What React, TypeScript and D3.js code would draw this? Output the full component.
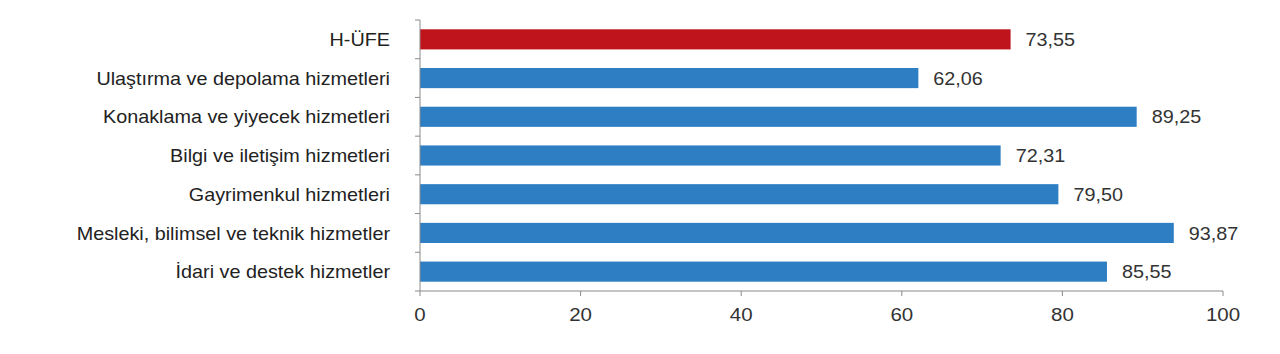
import React from "react";
import * as d3 from "d3";

const categories = [
  "H-ÜFE",
  "Ulaştırma ve depolama hizmetleri",
  "Konaklama ve yiyecek hizmetleri",
  "Bilgi ve iletişim hizmetleri",
  "Gayrimenkul hizmetleri",
  "Mesleki, bilimsel ve teknik hizmetler",
  "İdari ve destek hizmetler",
];
const values = [73.55, 62.06, 89.25, 72.31, 79.5, 93.87, 85.55];
const xTicks = [0, 20, 40, 60, 80, 100];

const W = 1280;
const H = 354;
const margin = { left: 420, right: 57, top: 20, bottom: 63 };

export default function App() {
  const x = d3.scaleLinear().domain([0, 100]).range([margin.left, W - margin.right]);
  const y = d3
    .scaleBand<string>()
    .domain(categories)
    .range([margin.top, H - margin.bottom])
    .paddingInner(0.48)
    .paddingOuter(0.24);
  const step = y.step();
  const y0 = margin.top;
  const y1 = H - margin.bottom;
  const fmt = (v: number) => v.toFixed(2).replace(".", ",");
  const axisColor = "#8a8a8a";
  const font = "'Liberation Sans', Arial, sans-serif";
  const sx = 1.1;
  return (
    <svg width={W} height={H} style={{ position: "absolute", left: 0, top: 0 }} fontFamily={font}>
      <rect width={W} height={H} fill="#fff" />
      {categories.map((c, i) => {
        const cy = y(c)! + y.bandwidth() / 2;
        return (
          <g key={c}>
            <rect
              x={x(0)}
              y={y(c)!}
              width={x(values[i]) - x(0)}
              height={y.bandwidth()}
              fill={i === 0 ? "#C0141C" : "#2E7EC4"}
            />
            <text
              transform={`translate(${x(values[i]) + 15},${cy}) scale(${sx},1)`}
              dy="0.37em"
              fontSize={18}
              fill="#333"
            >
              {fmt(values[i])}
            </text>
            <text
              transform={`translate(390,${cy}) scale(${sx},1)`}
              dy="0.37em"
              fontSize={18}
              textAnchor="end"
              fill="#222"
            >
              {c}
            </text>
          </g>
        );
      })}
      {/* y axis */}
      <line x1={x(0)} x2={x(0)} y1={y0} y2={y1} stroke={axisColor} strokeWidth={1} />
      {d3.range(categories.length + 1).map((i) => (
        <line
          key={"yt" + i}
          x1={x(0) - 5}
          x2={x(0)}
          y1={y0 + i * step}
          y2={y0 + i * step}
          stroke={axisColor}
        />
      ))}
      {/* x axis */}
      <line x1={x(0)} x2={x(100)} y1={y1} y2={y1} stroke={axisColor} strokeWidth={1} />
      {xTicks.map((t) => (
        <g key={"xt" + t}>
          <line x1={x(t)} x2={x(t)} y1={y1} y2={y1 + 5} stroke={axisColor} />
          <text
            transform={`translate(${x(t)},${y1 + 30}) scale(1.08,1)`}
            textAnchor="middle"
            fontSize={19}
            fill="#333"
          >
            {t}
          </text>
        </g>
      ))}
    </svg>
  );
}
